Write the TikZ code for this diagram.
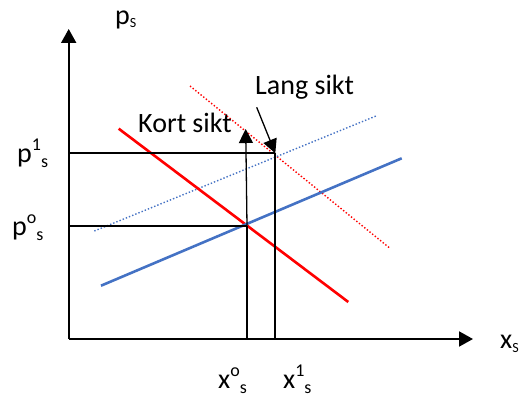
\documentclass[tikz,border=0pt]{standalone}
\usepackage{fontspec}
\setmainfont{Carlito}
\usetikzlibrary{arrows.meta}
\definecolor{sblue}{RGB}{68,114,196}
\newcommand{\bigf}{\fontsize{28}{30}\selectfont}
\newcommand{\scf}{\fontsize{18}{19}\selectfont}
\newcommand{\lbl}[3]{{\bigf #1}\raisebox{12pt}{\scf #2}\raisebox{-5pt}{\scf #3}}
\begin{document}
\begin{tikzpicture}[x=1pt,y=-1pt,
  axis/.style={line width=2pt,-{Triangle[length=14pt,width=15pt]}},
  guide/.style={line width=2pt},
  thinarr/.style={line width=1.3pt,-{Triangle[length=14pt,width=14pt]}},
  demand/.style={red,line width=2.6pt},
  supply/.style={sblue,line width=2.6pt},
  demandshift/.style={red,line width=1.4pt,dotted},
  supplyshift/.style={sblue,line width=1.4pt,dotted},
  txt/.style={inner sep=0pt,anchor=base west}]
\useasboundingbox (0,0) rectangle (525,398);
% axes
\coordinate (O) at (68.7,339);
\coordinate (ytop) at (68.7,29);
\coordinate (xend) at (473,339);
\draw[axis] (O) -- (ytop);
\draw[axis] (O) -- (xend);
% curves
\coordinate (d0a) at (118.7,128.7);
\coordinate (d0b) at (348.3,302);
\coordinate (s0a) at (101,285.7);
\coordinate (s0b) at (401.7,158.3);
\coordinate (d1a) at (190,86);
\coordinate (d1b) at (390,248.3);
\coordinate (s1a) at (94.3,231);
\coordinate (s1b) at (376,116);
\draw[demandshift] (d1a) -- (d1b);
\draw[supplyshift] (s1a) -- (s1b);
\draw[demand] (d0a) -- (d0b);
\draw[supply] (s0a) -- (s0b);
% guide lines
\coordinate (p1) at (68.7,153.3);
\coordinate (E1) at (275.3,153.3);
\coordinate (p0) at (68.7,225.7);
\coordinate (E0) at (247,225.7);
\coordinate (x0) at (247,339);
\coordinate (x1) at (275.3,339);
\draw[guide] (p1) -- (E1);
\draw[guide] (p0) -- (E0);
\draw[guide] (x0) -- (E0);
\draw[guide] (x1) -- (E1);
% arrows
\coordinate (kstart) at (247,225.7);
\coordinate (kend) at (245.7,129);
\draw[thinarr] (kstart) -- (kend);
\coordinate (lstart) at (256.7,107.3);
\draw[thinarr] (lstart) -- (E1);
% labels
\node[txt] (lang) at (255,95) {\bigf Lang sikt};
\node[txt] (kort) at (138,133) {\bigf Kort sikt};
\node[txt] (ps) at (115,25) {{\bigf p}\raisebox{-3pt}{\fontsize{14}{15}\selectfont S}};
\node[txt] (xs) at (500,348) {{\bigf x}\raisebox{-4pt}{\fontsize{14}{15}\selectfont S}};
\node[txt] (p1l) at (17,163) {\lbl{p}{1}{s}};
\node[txt] (p0l) at (12,236) {\lbl{p}{o}{s}};
\node[txt] (x0l) at (218,388) {\lbl{x}{o}{s}};
\node[txt] (x1l) at (283,388) {\lbl{x}{1}{s}};
\end{tikzpicture}
\end{document}
